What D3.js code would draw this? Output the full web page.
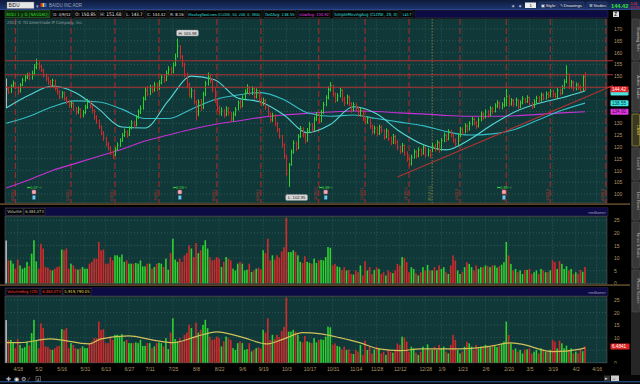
<!DOCTYPE html>
<html><head><meta charset="utf-8">
<script src="https://cdn.jsdelivr.net/npm/d3@7"></script>
<style>
html,body{margin:0;padding:0;background:#000;overflow:hidden}
svg{display:block;font-family:"Liberation Sans",Arial,sans-serif}
</style></head><body>
<svg id="c" width="640" height="384"></svg>
<script>
// ---- calendar ----
const firstDay = "2011-04-11", lastSlot = "2012-04-20";
const holidays = ["2011-04-22","2011-05-30","2011-07-04","2011-09-05","2011-11-24","2011-12-26",
  "2012-01-02","2012-01-16","2012-02-20","2012-04-06"];

// ---- daily bars, BIDU 4/11/11 .. 4/9/12 ----
const closes = [144.5,143.2,145.8,146.9,145.1,143.6,146.2,
148.3,149.5,150.2,149.1,151.0,153.8,
155.2,154.1,152.6,150.3,148.9,
147.6,146.0,148.2,144.7,143.5,
141.2,142.8,140.5,139.2,137.6,138.4,
136.1,134.8,135.9,133.2,134.5,136.8,
138.9,137.2,135.4,132.6,130.9,128.5,
125.8,123.9,121.2,119.6,117.4,116.8,
118.9,120.7,122.5,124.8,126.3,125.1,
127.9,130.2,129.1,132.4,134.8,136.1,
140.2,143.8,142.6,145.1,144.0,146.3,
144.8,147.2,149.6,148.3,151.1,152.9,
151.8,154.7,157.2,162.7,158.4,155.1,
150.8,146.4,142.1,143.8,
139.2,134.1,138.9,136.5,142.3,146.8,
149.6,148.2,144.4,139.9,136.3,134.8,
135.2,133.6,136.1,134.4,131.9,133.7,135.8,
138.6,137.2,140.8,143.1,145.2,142.9,
144.6,141.3,143.9,140.2,138.4,139.7,
136.8,134.1,131.5,133.2,129.8,127.4,
124.6,120.9,116.2,108.7,112.4,
117.8,121.6,119.4,124.3,127.8,125.1,
122.6,126.9,129.4,127.2,131.8,133.5,130.9,
134.6,137.9,140.8,144.3,146.1,142.5,
139.8,141.6,143.9,140.2,138.6,141.1,
138.4,135.7,137.9,136.2,133.8,135.4,
132.1,130.6,131.9,128.7,126.4,127.9,
125.6,128.3,126.9,124.2,126.8,123.5,
121.9,124.4,122.1,119.8,118.2,120.6,
117.3,114.9,112.8,115.6,117.9,116.1,
118.7,117.2,119.9,116.6,118.4,116.3,
120.4,119.1,121.8,118.6,122.7,124.9,
123.2,126.4,125.1,122.8,121.3,124.7,
127.5,126.2,128.9,127.4,129.8,131.6,
130.2,128.7,131.4,133.9,132.6,134.8,
133.5,136.2,135.1,137.4,138.6,136.9,
137.8,139.9,141.5,138.2,139.6,138.1,
139.8,137.1,138.6,140.4,139.3,140.9,
138.2,136.9,139.1,140.6,139.8,141.9,
140.7,142.4,141.6,143.5,142.2,141.3,
143.9,142.8,145.1,147.6,150.9,145.7,
147.3,144.8,146.2,145.1,144.0,149.68,144.42];

const highs = [149.0,145.4,146.5,148.1,147.6,145.9,147.0,
149.2,150.8,151.4,151.6,152.3,155.1,
157.4,156.3,155.0,153.2,151.1,
149.8,148.4,149.0,148.6,145.9,
144.0,143.7,143.4,141.3,140.0,139.5,
138.9,136.9,137.1,136.4,135.6,137.9,
140.4,139.6,137.8,135.9,133.4,131.6,
129.1,126.7,124.3,122.0,120.3,118.5,
119.8,121.9,123.6,125.9,127.8,127.0,
128.8,131.3,131.0,133.5,135.9,137.6,
141.3,145.2,145.9,146.3,146.1,147.5,
147.2,148.3,150.8,150.9,152.4,154.2,
154.0,155.8,159.6,165.98,163.1,159.0,
155.7,151.5,147.3,145.2,
144.5,139.8,140.1,140.3,143.4,148.0,
151.5,150.9,148.8,144.9,140.5,137.6,
136.8,136.0,137.2,136.9,134.8,134.9,136.9,
139.7,139.9,141.9,144.4,146.6,145.8,
145.7,145.1,144.8,144.3,141.0,140.8,
140.2,137.4,134.6,134.5,133.9,130.5,
128.0,125.1,121.5,116.6,113.1,
118.9,122.8,122.3,125.4,128.9,128.3,
125.9,128.0,130.5,130.1,132.9,134.8,134.2,
135.7,139.1,141.9,145.6,147.5,146.4,
143.1,142.8,145.0,144.6,141.3,142.2,
141.8,139.0,139.0,138.5,136.9,136.5,
135.8,133.0,133.0,132.4,129.5,129.0,
128.6,129.4,129.2,127.5,127.9,127.3,
124.4,125.5,125.0,122.9,120.6,121.7,
121.0,118.1,115.6,116.7,119.0,118.6,
119.8,119.4,121.0,120.3,119.5,118.9,
121.6,121.3,122.9,122.4,123.8,126.1,
125.6,127.5,127.3,125.7,123.6,125.8,
128.6,128.3,130.0,129.6,130.9,132.8,
132.4,131.0,132.5,135.0,134.7,135.9,
135.6,137.3,137.0,138.5,139.8,139.3,
138.9,141.0,144.6,142.1,140.7,140.3,
140.9,140.2,139.7,141.5,140.8,141.9,
141.3,139.0,140.2,141.7,141.6,143.0,
142.7,143.5,143.3,144.6,144.3,143.1,
145.0,144.7,146.2,148.7,154.6,151.2,
148.4,148.1,147.3,147.2,146.3,150.4,151.68];

const lows = [136.6,142.4,142.9,145.2,144.3,142.1,143.0,
145.8,147.6,148.7,148.2,148.5,150.4,
152.9,152.8,151.7,149.4,147.8,
146.3,145.1,145.3,143.9,142.2,
140.3,140.6,139.6,138.1,136.5,136.4,
135.2,133.6,134.0,132.1,132.5,133.9,
136.1,136.3,134.2,131.5,129.7,127.6,
124.9,122.5,120.1,118.4,116.5,114.9,
116.1,118.3,120.0,122.1,124.2,123.9,
124.6,127.4,128.0,128.7,131.8,133.9,
135.8,139.7,141.5,141.9,142.8,143.4,
143.6,144.1,146.5,147.2,147.9,150.3,
150.6,151.2,154.1,157.8,157.2,153.9,
149.6,145.1,141.0,140.6,
138.0,131.2,133.0,135.2,136.0,141.5,
146.0,147.0,143.2,138.7,135.1,133.5,
133.1,132.4,133.0,133.3,130.6,130.8,133.0,
135.4,136.1,136.8,140.2,142.5,141.8,
142.0,140.2,140.5,139.1,137.2,137.5,
135.7,133.0,130.3,130.6,128.7,126.2,
123.5,119.6,114.8,107.5,102.95,
112.0,117.1,118.2,119.0,123.8,124.0,
121.4,122.2,126.1,126.0,126.8,131.0,129.8,
130.4,134.0,137.2,140.1,143.5,141.3,
138.6,139.2,141.0,139.0,137.4,138.0,
137.3,134.5,135.1,135.0,132.7,132.9,
131.0,129.4,129.8,127.6,125.2,125.5,
124.4,125.0,125.8,123.0,123.6,122.4,
120.7,121.2,121.0,118.6,117.0,117.6,
116.2,113.7,111.6,112.1,115.0,115.0,
115.6,116.1,116.7,115.5,115.9,115.2,
117.8,118.0,118.6,117.5,118.2,121.9,
122.1,122.8,124.0,121.7,120.2,120.8,
124.1,125.1,125.7,126.3,126.9,129.0,
129.1,127.6,128.2,130.8,131.5,132.0,
132.4,133.0,134.0,134.6,136.5,135.8,
135.9,136.8,137.2,137.0,137.5,137.0,
137.2,136.0,136.5,138.0,138.4,138.6,
137.6,136.0,136.5,138.4,138.7,139.2,
139.8,140.1,140.6,141.0,141.1,140.4,
140.7,141.7,142.2,144.6,147.0,144.5,
144.8,143.6,144.0,144.1,143.2,143.5,143.7];

// volume, millions
const volumes = [17.0,9.1,9.1,7.8,5.8,9.4,7.1,5.8,6.2,8.5,6.9,11.8,17.1,8.7,5.8,15.7,13.8,6.5,6.2,5.4,
5.1,5.8,6.5,6.7,13.4,13.1,13.8,5.8,7.8,7.1,5.8,5.4,5.8,6.5,5.8,5.8,7.8,8.5,9.8,9.8,
16.4,13.1,13.4,7.8,7.8,10.4,9.1,11.1,11.1,10.4,11.4,8.5,9.1,7.8,7.8,7.8,8.1,7.8,9.1,6.7,
6.7,7.8,7.8,5.8,6.5,7.8,8.1,7.8,6.5,9.8,5.4,12.0,17.7,9.4,8.5,9.8,8.5,11.1,12.0,15.1,
13.8,10.4,16.0,12.0,13.1,15.1,17.1,13.8,10.4,9.1,9.4,10.4,9.8,6.5,8.5,10.4,9.8,9.1,5.8,5.1,
7.8,8.5,7.8,5.1,5.4,7.8,4.5,5.1,5.8,6.2,5.6,13.1,12.0,17.7,9.1,11.1,9.4,11.1,10.2,12.6,
14.3,26.0,12.4,12.4,13.1,12.4,11.1,8.5,8.1,10.7,8.5,8.1,7.8,9.8,8.1,9.1,
9.3,9.1,10.4,14.4,14.1,7.1,7.7,6.7,6.4,5.3,6.4,5.1,5.3,3.7,3.5,5.1,4.4,7.1,3.1,8.8,
5.1,6.4,3.7,5.3,6.4,5.7,3.7,4.4,3.1,5.1,4.4,4.0,5.1,7.7,7.1,10.4,10.1,8.4,4.4,6.4,
5.7,4.0,3.1,4.4,6.4,5.1,7.3,5.1,5.1,6.4,5.1,7.1,5.7,6.4,4.4,3.7,7.1,11.1,9.1,5.1,
3.7,4.4,6.4,8.4,7.7,6.4,5.1,7.1,5.7,6.4,6.4,7.1,6.8,6.4,7.1,7.1,6.2,6.8,7.4,8.4,
16.4,11.1,7.7,5.1,5.7,4.4,5.1,3.7,5.3,5.3,5.7,3.7,4.4,5.1,3.7,5.7,5.1,4.4,4.4,5.1,
9.1,8.4,5.7,8.8,7.7,5.7,6.8,5.1,5.7,3.7,4.4,3.7,5.3,4.6,6.484073];

// studies, read every 10 bars off the chart
const studyBars = [0,10,20,30,40,50,60,70,80,90,100,110,120,130,140,150,160,170,180,190,200,210,220,230,240,250];
const sma20 = [136.5,142,145.8,143,136,128.4,128,139.5,150,148.5,140.7,139,133.5,126,129.5,137,134,126.5,121,118.7,123,129.5,135,138.5,140.8,143.7];
const fastAvg = [130,133,137,139.5,139,136,132,132,136,140,142,143,140,134.5,133,133.5,132,130.5,129,126.5,125,125.5,127.5,131.5,135.5,138.55];
const slowAvg = [102.5,106,110,113,116,119,122.5,125,127.5,129.5,131,132.5,133.5,134.2,134.8,135.2,135,134.4,134,133.3,133,133,133.2,133.8,134.4,134.92];
const volAvgBars = [0,6,19,36,41,53,63,72,82,91,101,113,120,128,136,144,153,161,170,179,196,208,218,222,236,248,250];
const volAvg = [8.0,8.0,9.5,7.5,9.5,10.7,9.1,8.0,10.4,12.3,10.4,7.5,9.5,12.0,11.5,10.0,7.9,5.5,4.8,5.5,5.5,6.4,7.9,7.5,4.4,5.4,5.92];
const volAvgLabel = "5,919,790.05";

// drawings
const levels = [156.5, 150.6, 145.3];
const trend = [["2011-12-09",107.2],["2012-04-20",144.7]];
const expiries = ["2011-04-15","2011-05-20","2011-06-17","2011-07-15","2011-08-19","2011-09-16","2011-10-21",
  "2011-11-18","2011-12-16","2012-01-20","2012-02-17","2012-03-16","2012-04-20"];
const yearStart = "2012-01-03";
const earnings = [["2011-04-28","0.47"],["2011-07-28","0.58"],["2011-10-26","0.88"],["2012-02-16","0.88"]];

const tickDates = ["2011-04-18","2011-05-02","2011-05-16","2011-05-31","2011-06-13","2011-06-27","2011-07-11",
  "2011-07-25","2011-08-08","2011-08-22","2011-09-06","2011-09-19","2011-10-03","2011-10-17","2011-10-31",
  "2011-11-14","2011-11-28","2011-12-12","2011-12-28","2012-01-09","2012-01-23","2012-02-06","2012-02-20",
  "2012-03-05","2012-03-19","2012-04-02","2012-04-16"];
const priceTicks = [100,105,110,115,120,125,130,135,140,145,150,155,160,165,170];
const volTicks = [0,5,10,15,20,25];
const lastOpen = 150.85, prevClose = 149.68, lastRange = 8.16;

// ---- build trading calendar ----
const parse = d3.timeParse("%Y-%m-%d"), fmt = d3.timeFormat("%Y-%m-%d");
const days = [];
for (let d = parse(firstDay); d <= parse(lastSlot); d = d3.timeDay.offset(d, 1)) {
  const w = d.getDay();
  if (w === 0 || w === 6 || holidays.includes(fmt(d))) continue;
  days.push(fmt(d));
}
const idxOf = s => days.findIndex(d => d >= s);

const svg = d3.select("#c");
const X0 = 5, X1 = 607;
const x = d3.scaleLinear().domain([-0.5, days.length - 0.5]).range([X0, X1]);
const yP = d3.scaleLinear().domain([100, 170]).range([194, 29]);
const yV = d3.scaleLinear().domain([0, 25]).range([283.3, 220.3]);
const yA = d3.scaleLinear().domain([0, 25]).range([362.7, 300]);
const panels = {price: [18.5, 203], vol: [216.5, 284], avg: [296.5, 363]};

const TAN = "#b39a66", BG = "#113838", GRID = "#3a6462";
const GREEN = "#2fd02f", RED = "#d22a2a";
const NARROW = "'Liberation Sans Narrow','DejaVu Sans Condensed','Liberation Sans',Arial,sans-serif";
const fmtNum = d3.format(",");
const n = closes.length - 1;

// shrink a text until it fits its box
function fit(t, w) {
  const L = t.node().getComputedTextLength();
  if (L > w) t.attr("font-size", (+t.attr("font-size")) * w / L);
  return t;
}
function txt(g, xx, yy, s, o = {}) {
  const t = g.append("text").attr("x", xx).attr("y", yy).text(s)
    .attr("font-size", o.size || 5).attr("fill", o.fill || "#ddd")
    .attr("text-anchor", o.anchor || "start");
  if (o.family) t.attr("font-family", o.family);
  if (o.weight) t.attr("font-weight", o.weight);
  if (o.w) fit(t, o.w);
  return t;
}

// value tags on the right axis
const priceTags = [
  [yP(closes[n]), closes[n].toFixed(2), "#e02424", "#fff"],
  [yP(fastAvg[fastAvg.length - 1]), fastAvg[fastAvg.length - 1].toFixed(2), "#3ee4e4", "#033"],
  [yP(slowAvg[slowAvg.length - 1]), slowAvg[slowAvg.length - 1].toFixed(2), "#e236e2", "#301030"]];
const avgTags = [[yA(volumes[n]), volumes[n].toFixed(4), "#e02424", "#fff"]];

// gradient for top bar
const defs = svg.append("defs");
const gr = defs.append("linearGradient").attr("id", "tb").attr("x1", 0).attr("y1", 0).attr("x2", 0).attr("y2", 1);
gr.append("stop").attr("offset", "0%").attr("stop-color", "#0e1a3a");
gr.append("stop").attr("offset", "100%").attr("stop-color", "#1d3672");
Object.entries(panels).forEach(([k, [t, b]]) => {
  defs.append("clipPath").attr("id", "cl-" + k).append("rect")
    .attr("x", X0).attr("y", t).attr("width", X1 - X0).attr("height", b - t);
});

svg.append("rect").attr("width", 640).attr("height", 384).attr("fill", "#000");

// ---- panels backgrounds + grid ----
const tickIdx = tickDates.map(idxOf);
function panel(key, yScale, ticks, tags) {
  const [t, b] = panels[key];
  svg.append("rect").attr("x", X0).attr("y", t).attr("width", X1 - X0).attr("height", b - t)
    .attr("fill", BG).attr("stroke", "#555").attr("stroke-width", 0.6);
  const g = svg.append("g").attr("clip-path", `url(#cl-${key})`);
  g.selectAll(".hg").data(ticks).join("line")
    .attr("x1", X0).attr("x2", X1).attr("y1", d => yScale(d)).attr("y2", d => yScale(d))
    .attr("stroke", GRID).attr("stroke-width", 0.7).attr("stroke-dasharray", "1,2");
  g.selectAll(".vg").data(tickIdx).join("line")
    .attr("x1", d => x(d)).attr("x2", d => x(d)).attr("y1", t).attr("y2", b)
    .attr("stroke", GRID).attr("stroke-width", 0.7).attr("stroke-dasharray", "1,2");
  // right axis, labels hidden where a value tag sits
  const shown = ticks.filter(v => !tags.some(tg => Math.abs(tg[0] - yScale(v)) < 6.5));
  const ax = svg.append("g").attr("transform", "translate(611,0)")
    .call(d3.axisRight(yScale).tickValues(shown).tickSize(0).tickPadding(3).tickFormat(d3.format("d")));
  ax.select(".domain").remove();
  ax.selectAll("text").attr("font-size", 5).attr("fill", TAN).attr("font-family", "Liberation Sans, Arial");
  return g;
}
const gP = panel("price", yP, priceTicks, priceTags);
const gV = panel("vol", yV, volTicks, []);
const gA = panel("avg", yA, volTicks, avgTags);

// separators
[203.3, 284.3].forEach(a => {
  svg.append("rect").attr("x", 0).attr("y", a).attr("width", 630).attr("height", 1.6).attr("fill", "#5e4b2c");
});

// ---- price panel drawings ----
expiries.forEach(s => {
  const xi = x(idxOf(s));
  gP.append("line").attr("x1", xi).attr("x2", xi).attr("y1", 19).attr("y2", 203)
    .attr("stroke", "#a52a2a").attr("stroke-width", 1.1).attr("stroke-dasharray", "6,3");
  const lab = d3.timeFormat("%-m/%Y")(parse(s));
  gP.append("text").attr("transform", `translate(${xi - 1.6},201) rotate(-90)`)
    .attr("font-size", 4).attr("fill", "#c03434").text(lab);
});
{
  const xi = x(idxOf(yearStart));
  gP.append("line").attr("x1", xi).attr("x2", xi).attr("y1", 19).attr("y2", 203)
    .attr("stroke", "#7c7a3c").attr("stroke-width", 1).attr("stroke-dasharray", "1.5,1.5");
  gP.append("text").attr("transform", `translate(${xi - 1.6},201) rotate(-90)`)
    .attr("font-size", 4).attr("fill", "#8c8a44").text("2012 (1)");
}
levels.forEach(v => {
  svg.append("line").attr("x1", X0).attr("x2", 613).attr("y1", yP(v)).attr("y2", yP(v))
    .attr("stroke", "#b03232").attr("stroke-width", 1.1);
});
{
  const i0 = idxOf(trend[0][0]), i1 = idxOf(trend[1][0]);
  const slope = (trend[1][1] - trend[0][1]) / (i1 - i0);
  const iEnd = x.invert(613);
  svg.append("line").attr("x1", x(i0)).attr("y1", yP(trend[0][1]))
    .attr("x2", x(iEnd)).attr("y2", yP(trend[0][1] + slope * (iEnd - i0)))
    .attr("stroke", "#b03232").attr("stroke-width", 1.1);
}

// moving averages
const line = d3.line().curve(d3.curveMonotoneX);
function study(bars, vals, ys, color, g, w) {
  g.append("path").attr("d", line(bars.map((b, i) => [x(b), ys(vals[i])])))
    .attr("fill", "none").attr("stroke", color).attr("stroke-width", w || 1.1);
}
study(studyBars, slowAvg, yP, "#c431d4", gP);
study(studyBars, fastAvg, yP, "#33bcc4", gP);
study(studyBars, sma20, yP, "#55d8d8", gP);

// bars
const colorOf = i => i === 0 ? "#b8b8b8" : (closes[i] >= closes[i - 1] ? GREEN : RED);
const bx = i => Math.round(x(i)) + 0.5;
gP.selectAll(".bar").data(closes).join("line")
  .attr("x1", (d, i) => bx(i)).attr("x2", (d, i) => bx(i))
  .attr("y1", (d, i) => yP(highs[i])).attr("y2", (d, i) => yP(lows[i]))
  .attr("stroke", (d, i) => colorOf(i)).attr("stroke-width", 1);
gP.selectAll(".tick").data(closes).join("line")
  .attr("x1", (d, i) => bx(i)).attr("x2", (d, i) => bx(i) + 1.2)
  .attr("y1", d => yP(d)).attr("y2", d => yP(d))
  .attr("stroke", (d, i) => colorOf(i)).attr("stroke-width", 0.8);

// high / low bubbles
const hi = d3.maxIndex(highs), lo = d3.minIndex(lows);
function bubble(xx, yy, s) {
  svg.append("rect").attr("x", xx).attr("y", yy).attr("width", 22).attr("height", 6).attr("rx", 1.5)
    .attr("fill", "#d6d6d6").attr("stroke", "#888").attr("stroke-width", 0.4);
  txt(svg, xx + 11, yy + 4.6, s, {size: 4.2, fill: "#222", anchor: "middle", w: 20});
}
bubble(x(hi) - 1, 30, "H: " + highs[hi]);
bubble(x(lo) - 3, 194.5, "L: " + lows[lo]);

// earnings markers
earnings.forEach(([s, v]) => {
  const xi = x(idxOf(s));
  txt(svg, xi, 188.6, "\u22a2" + v + "\u22a3", {size: 3.8, fill: "#3ed83e", anchor: "middle"});
  svg.append("rect").attr("x", xi - 2).attr("y", 190).attr("width", 4).attr("height", 4).attr("rx", 1)
    .attr("fill", "#f2a7b4").attr("stroke", "#b25565").attr("stroke-width", 0.4);
  svg.append("rect").attr("x", xi - 1.5).attr("y", 195.5).attr("width", 3).attr("height", 4)
    .attr("fill", "#70c8f0").attr("stroke", "#2f6f9a").attr("stroke-width", 0.3);
});

txt(svg, 7, 24, "2012 \u00a9 TD Ameritrade IP Company, Inc.", {size: 4.4, fill: "#8fa3a3", w: 76, family: NARROW});

// ---- volume panels ----
[[gV, yV], [gA, yA]].forEach(([g, ys]) => {
  g.selectAll(".v").data(volumes).join("rect")
    .attr("x", (d, i) => x(i) - 0.8).attr("width", 1.6)
    .attr("y", d => ys(d)).attr("height", d => ys(0) - ys(d))
    .attr("fill", (d, i) => colorOf(i));
});
study(volAvgBars, volAvg, yA, "#cfc25a", gA, 1.1);

// ---- right axis value tags ----
function tag([yy, s, fill, color], w) {
  svg.append("rect").attr("x", 610.5).attr("y", yy - 3).attr("width", w || 18).attr("height", 6).attr("rx", 1)
    .attr("fill", fill);
  if (s) txt(svg, 612, yy + 1.8, s, {size: 4.6, fill: color, w: (w || 18) - 2.5});
}
tag([yP(sma20[sma20.length - 1]) + 1.6, "", "#4fe0e0"]);
priceTags.forEach(t => tag(t));
avgTags.forEach(t => tag(t, 19));

// ---- time axis ----
svg.append("rect").attr("x", 0).attr("y", 363.5).attr("width", 630).attr("height", 11).attr("fill", "#000");
const tax = svg.append("g").attr("transform", "translate(0,366)")
  .call(d3.axisBottom(x).tickValues(tickIdx).tickSize(0).tickPadding(0)
    .tickFormat((d, i) => d3.timeFormat("%-m/%-d")(parse(tickDates[i]))));
tax.select(".domain").remove();
tax.selectAll("text").attr("font-size", 5).attr("fill", TAN).attr("dy", "0.9em").attr("font-family", "Liberation Sans, Arial");

// ---- headers ----
function hbox(x0, x1, y0, y1, s, color, fill, stroke) {
  svg.append("rect").attr("x", x0).attr("y", y0).attr("width", x1 - x0).attr("height", y1 - y0)
    .attr("fill", fill || "#000").attr("stroke", stroke || "#4a4a4a").attr("stroke-width", 0.5);
  if (s) txt(svg, x0 + 1.3, y1 - 1.7, s, {size: 4.8, fill: color, w: x1 - x0 - 2.6, family: NARROW});
}
// top bar
svg.append("rect").attr("x", 0).attr("y", 0).attr("width", 640).attr("height", 10).attr("fill", "url(#tb)");
svg.append("line").attr("x1", 0).attr("x2", 640).attr("y1", 9.6).attr("y2", 9.6).attr("stroke", "#3355a0").attr("stroke-width", 0.6);
svg.append("rect").attr("x", 7).attr("y", 2).attr("width", 27).attr("height", 6.5).attr("fill", "#e6e6e6").attr("stroke", "#777").attr("stroke-width", 0.4);
txt(svg, 8.5, 7.2, "BIDU", {size: 4.6, fill: "#111"});
txt(svg, 35.5, 7.5, "\u25be", {size: 5, fill: "#aab"});
[["#d33", 40.5], ["#ec3", 42.5], ["#36c", 44.5]].forEach(([c, xx]) =>
  svg.append("rect").attr("x", xx).attr("y", 3).attr("width", 2).attr("height", 4).attr("fill", c));
txt(svg, 49, 7.3, "BAIDU INC ADR", {size: 4.6, fill: "#9aa2b6", w: 33});
[511, 518].forEach(xx => txt(svg, xx, 7.5, "\u2736", {size: 5, fill: "#ccd"}));
svg.append("rect").attr("x", 525).attr("y", 2.5).attr("width", 11).attr("height", 5.5).attr("fill", "#eee");
txt(svg, 529.5, 7, "1", {size: 4.4, fill: "#111"});
[["\u25a3 Style", 539, 18], ["\u270e Drawings", 558, 26], ["\u2692 Studies", 587, 20]].forEach(([s, xx, w]) => {
  svg.append("rect").attr("x", xx).attr("y", 2).attr("width", w).attr("height", 6.5).attr("rx", 1)
    .attr("fill", "#1b2c5a").attr("stroke", "#3b4e84").attr("stroke-width", 0.4);
  txt(svg, xx + 1.5, 7, s, {size: 4.4, fill: "#e6e6e6", w: w - 3});
});
txt(svg, 611, 7.8, closes[n].toFixed(2), {size: 6, fill: "#35e035", weight: "bold", w: 17.5});
txt(svg, 629.5, 4.6, (closes[n] - prevClose).toFixed(2), {size: 3.4, fill: "#ff3b3b", w: 10});
txt(svg, 629.5, 8.8, ((closes[n] - prevClose) / prevClose * 100).toFixed(2) + "%", {size: 3.2, fill: "#ff3b3b", w: 10});

// study header row
svg.append("rect").attr("x", 0).attr("y", 10).attr("width", 631).attr("height", 8.5).attr("fill", "#000");
const hy0 = 10.8, hy1 = 17.6;
hbox(5, 50, hy0, hy1, "BIDU 1 y D [NASDAQ]", "#38d838", "#0a2a0a", "#3a8a3a");
hbox(52, 72, hy0, hy1, "D: 4/9/12", "#e8e8e8");
hbox(74, 97, hy0, hy1, "O: " + lastOpen.toFixed(2), "#e8e8e8");
hbox(99, 123, hy0, hy1, "H: " + highs[n], "#e8e8e8");
hbox(125, 144, hy0, hy1, "L: " + lows[n], "#e8e8e8");
hbox(146, 167, hy0, hy1, "C: " + closes[n], "#e8e8e8");
hbox(169, 185, hy0, hy1, "R: " + lastRange.toFixed(2), "#e8e8e8");
hbox(187, 262, hy0, hy1, "MovAvgTwoLines (CLOSE, 50, 200, 0, SMA)", "#3fe0e0");
hbox(264, 296, hy0, hy1, "fastAvg: " + fastAvg[fastAvg.length - 1], "#3fe0e0");
hbox(298, 330, hy0, hy1, "slowAvg: " + slowAvg[slowAvg.length - 1], "#e040e8");
hbox(333, 399, hy0, hy1, "SimpleMovingAvg (CLOSE, 20, 0)", "#3fe0e0");
hbox(401, 413, hy0, hy1, "" + sma20[sma20.length - 1], "#3fe0e0");
hbox(415, 608, hy0, hy1, "", null, "#0d0b44", "#2c2c62");
svg.append("rect").attr("x", 613).attr("y", 11.5).attr("width", 6).attr("height", 5.5).attr("fill", "#ddd");
txt(svg, 614.2, 16, "Z", {size: 4.6, fill: "#222", weight: "bold"});

// volume headers
const vy0 = 207.8, vy1 = 215.6;
hbox(5, 608, vy0, vy1, "", null, "#0d0b44", "#2c2c62");
hbox(6, 23, vy0 + 0.5, vy1 - 0.5, "Volume", "#cfcfcf");
hbox(24, 45, vy0 + 0.5, vy1 - 0.5, fmtNum(Math.round(volumes[n] * 1e6)), "#cfcfcf");
txt(svg, 606, vy1 - 2, "<millions>", {size: 4.2, fill: "#a7a7c7", anchor: "end", w: 18});
const ay0 = 287.8, ay1 = 295.6;
hbox(5, 608, ay0, ay1, "", null, "#0d0b44", "#2c2c62");
hbox(6, 39, ay0 + 0.5, ay1 - 0.5, "VolumeAvg (20)", "#ff4040");
hbox(41, 62, ay0 + 0.5, ay1 - 0.5, fmtNum(Math.round(volumes[n] * 1e6)), "#ff4040");
hbox(63, 91, ay0 + 0.5, ay1 - 0.5, volAvgLabel, "#e6dc6a");
txt(svg, 606, ay1 - 2, "<millions>", {size: 4.2, fill: "#a7a7c7", anchor: "end", w: 18});

// ---- right sidebar ----
svg.append("rect").attr("x", 631).attr("y", 10).attr("width", 9).attr("height", 366).attr("fill", "#262626");
[["Drawing Sets", 19, 60, false], ["Active Trader", 62, 112, false], ["Chart", 114, 146, true],
 ["Level II", 148, 180, false], ["Live News", 182, 220, false], ["Times & Sales", 222, 268, false],
 ["Phase Scores", 270, 312, false]].forEach(([s, a, b, on]) => {
  svg.append("rect").attr("x", 632).attr("y", a).attr("width", 7.5).attr("height", b - a).attr("rx", 1)
    .attr("fill", on ? "#3a3a22" : "#383838").attr("stroke", on ? "#c8b040" : "#555").attr("stroke-width", 0.5);
  svg.append("text").attr("transform", `translate(637.4,${(a + b) / 2}) rotate(90)`)
    .attr("text-anchor", "middle").attr("font-size", 4).attr("fill", on ? "#e8d050" : "#bdbdbd").text(s);
});

// ---- bottom toolbar ----
svg.append("rect").attr("x", 0).attr("y", 375).attr("width", 640).attr("height", 9).attr("fill", "#050505");
["\u271a", "\u25c9", "\u2699", "\u2215"].forEach((s, i) =>
  txt(svg, 6 + i * 7.5, 381, s, {size: 5.5, fill: i === 1 ? "#e8e8e8" : "#b8b8c8"}));
svg.append("rect").attr("x", 36).attr("y", 376.5).attr("width", 4.5).attr("height", 5).attr("fill", "none").attr("stroke", "#999").attr("stroke-width", 0.5);
txt(svg, 37, 380.6, "4", {size: 3.8, fill: "#ccc"});
svg.append("rect").attr("x", 604).attr("y", 375.5).attr("width", 6).attr("height", 5.5).attr("fill", "#333");
txt(svg, 605.3, 380.2, "\u25b8", {size: 4.5, fill: "#ddd"});
svg.append("rect").attr("x", 611).attr("y", 375.5).attr("width", 8).attr("height", 5.5).attr("fill", "#ccc");
txt(svg, 611.6, 380.2, "\u21d4", {size: 5, fill: "#222"});
svg.append("line").attr("x1", 0).attr("x2", 640).attr("y1", 381.8).attr("y2", 381.8).attr("stroke", "#3c7ad2").attr("stroke-width", 0.8);
</script></body></html>
